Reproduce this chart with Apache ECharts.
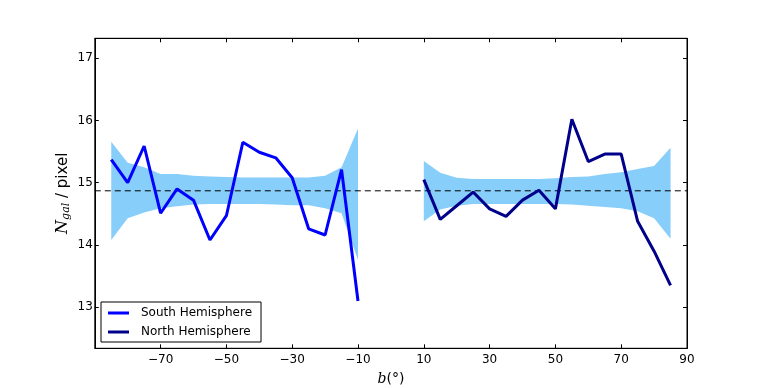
<!DOCTYPE html>
<html><head><meta charset="utf-8">
<script src="https://cdn.jsdelivr.net/npm/echarts@6/dist/echarts.min.js"></script>
<style>html,body{margin:0;padding:0;background:#fff}#c{width:763px;height:388px}</style>
</head><body><div id="c"></div>
<script>
const southX = [-85,-80,-75,-70,-65,-60,-55,-50,-45,-40,-35,-30,-25,-20,-15,-10];
const southY = [15.37,15.00,15.59,14.51,14.90,14.72,14.08,14.47,15.65,15.49,15.40,15.08,14.26,14.16,15.21,13.10];
const southHi = [15.66,15.32,15.25,15.14,15.14,15.11,15.10,15.09,15.085,15.085,15.085,15.085,15.085,15.11,15.25,15.87];
const southLo = [14.08,14.43,14.52,14.59,14.62,14.65,14.66,14.66,14.66,14.66,14.65,14.64,14.64,14.59,14.51,13.76];
const northX = [10,15,20,25,30,35,40,45,50,55,60,65,70,75,80,85];
const northY = [15.05,14.41,14.63,14.85,14.58,14.46,14.72,14.88,14.58,16.02,15.34,15.46,15.46,14.38,13.90,13.35];
const northHi = [15.35,15.16,15.08,15.06,15.06,15.06,15.06,15.06,15.07,15.09,15.10,15.14,15.17,15.22,15.27,15.56];
const northLo = [14.38,14.57,14.63,14.66,14.66,14.66,14.66,14.66,14.66,14.65,14.63,14.61,14.59,14.54,14.43,14.10];
const meanLevel = 14.87;
const xTicks = [-70,-50,-30,-10,10,30,50,70,90];
const yTicks = [13,14,15,16,17];

const FONT = 'DejaVu Sans';
function bandSeries(xs, lo, hi){
  return {
    type:'custom', silent:true, z:1,
    data: xs.map((x,i)=>[x, lo[i], hi[i]]),
    encode:{x:0, y:[1,2]},
    renderItem: function(params, api){
      if (params.dataIndex !== 0) return null;
      const pts = [];
      for (let i=0;i<xs.length;i++) pts.push(api.coord([xs[i], hi[i]]));
      for (let i=xs.length-1;i>=0;i--) pts.push(api.coord([xs[i], lo[i]]));
      return {type:'polygon', shape:{points:pts}, style:{fill:'#87cefa'}};
    }
  };
}
const fmtNum = v => (v<0 ? '\u2212'+Math.abs(v) : String(v));
const chart = echarts.init(document.getElementById('c'));
chart.setOption({
  animation:false,
  backgroundColor:'#fff',
  grid:{left:94.8, right:76, top:38.3, bottom:39.7, show:true, borderColor:'#000', borderWidth:1, backgroundColor:'transparent', containLabel:false, outerBoundsMode:'none'},
  legend:{
    data:['South Hemisphere','North Hemisphere'],
    orient:'vertical', left:101, top:302,
    borderColor:'#000', borderWidth:1, borderRadius:0,
    padding:[5,9,4,7], itemGap:7, itemWidth:21, itemHeight:3,
    icon:'rect',
    textStyle:{fontFamily:FONT, fontSize:12, color:'#000', padding:[0,0,0,7]},
    backgroundColor:'#fff'
  },
  xAxis:[{
    type:'value', min:-90, max:90, interval:20,
    name:'{i|b}(°)', nameLocation:'middle', nameGap:24, nameMoveOverlap:false,
    nameTextStyle:{fontFamily:FONT, fontSize:14, color:'#000', rich:{i:{fontFamily:'DejaVu Serif', fontStyle:'italic', fontSize:14}}},
    axisLine:{show:true, onZero:false, lineStyle:{color:'#000', width:1}},
    axisTick:{show:true, inside:true, length:4, lineStyle:{color:'#000'}, customValues:xTicks},
    axisLabel:{fontFamily:FONT, fontSize:12, color:'#000', margin:6, customValues:xTicks, formatter:fmtNum},
    splitLine:{show:false}
  },{
    type:'value', position:'top', min:-90, max:90, interval:20,
    axisLine:{show:true, onZero:false, lineStyle:{color:'#000'}},
    axisTick:{show:true, inside:true, length:4, lineStyle:{color:'#000'}, customValues:xTicks},
    axisLabel:{show:false}, splitLine:{show:false}
  }],
  yAxis:[{
    type:'value', min:12.34, max:17.32,
    name:'{n|N}{s|gal}{p| / pixel}', nameLocation:'middle', nameGap:23, nameRotate:90, nameMoveOverlap:false,
    nameTextStyle:{fontFamily:FONT, fontSize:15, color:'#000',
      rich:{n:{fontFamily:'DejaVu Serif', fontStyle:'italic', fontSize:16, color:'#000'},
            s:{fontFamily:'DejaVu Serif', fontStyle:'italic', fontSize:11, color:'#000', padding:[7,0,0,0]},
            p:{fontFamily:FONT, fontSize:15, color:'#000'}}},
    axisLine:{show:true, onZero:false, lineStyle:{color:'#000'}},
    axisTick:{show:true, inside:true, length:4, lineStyle:{color:'#000'}, customValues:yTicks},
    axisLabel:{fontFamily:FONT, fontSize:12, color:'#000', margin:2, customValues:yTicks},
    splitLine:{show:false}
  },{
    type:'value', position:'right', min:12.34, max:17.32,
    axisLine:{show:true, onZero:false, lineStyle:{color:'#000'}},
    axisTick:{show:true, inside:true, length:4, lineStyle:{color:'#000'}, customValues:yTicks},
    axisLabel:{show:false}, splitLine:{show:false}
  }],
  series:[
    bandSeries(southX, southLo, southHi),
    bandSeries(northX, northLo, northHi),
    {type:'line', silent:true, z:2, symbol:'none', data:[[-90,meanLevel],[90,meanLevel]],
     lineStyle:{color:'#000', width:1, type:[6,4]}},
    {name:'South Hemisphere', type:'line', z:3, symbol:'none', color:'#0000ff',
     data:southX.map((x,i)=>[x,southY[i]]), lineStyle:{width:3, color:'#0000ff'}},
    {name:'North Hemisphere', type:'line', z:3, symbol:'none', color:'#00008b',
     data:northX.map((x,i)=>[x,northY[i]]), lineStyle:{width:3, color:'#00008b'}}
  ]
});
</script></body></html>
